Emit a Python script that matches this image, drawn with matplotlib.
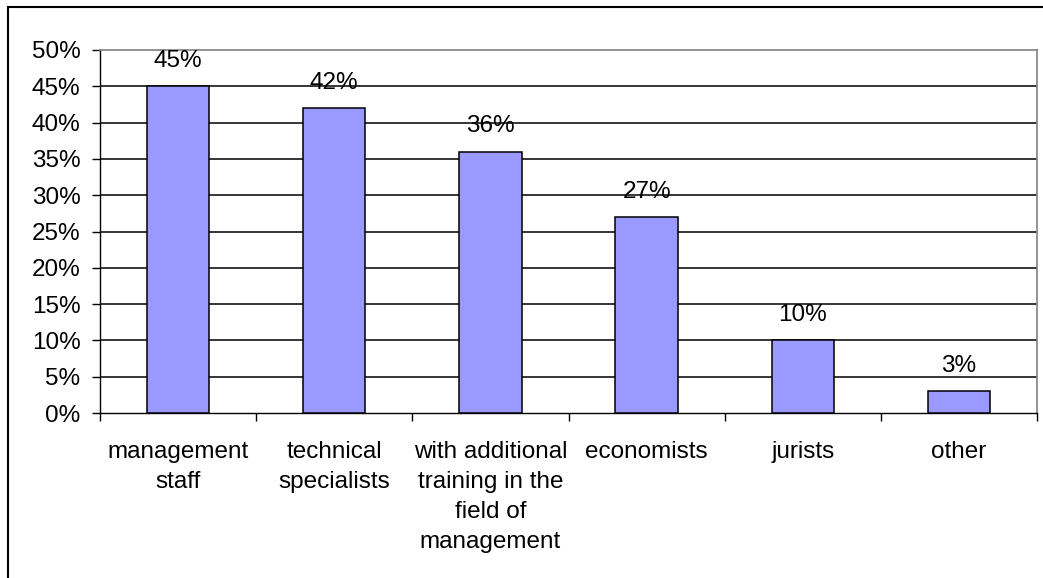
import matplotlib
matplotlib.use("Agg")
import matplotlib.pyplot as plt
from matplotlib.patches import Rectangle
from matplotlib.ticker import FixedLocator

categories = ["management\nstaff", "technical\nspecialists",
              "with additional\ntraining in the\nfield of\nmanagement",
              "economists", "jurists", "other"]
values = [45, 42, 36, 27, 10, 3]
yticks = [0, 5, 10, 15, 20, 25, 30, 35, 40, 45, 50]

plt.rcParams['font.family'] = ['Liberation Sans', 'DejaVu Sans']
fs = 17.5

fig = plt.figure(figsize=(10.43, 5.78), dpi=100)
ax = fig.add_axes([100 / 1043, 165 / 578, 937 / 1043, 363 / 578])

x = list(range(len(categories)))
ax.bar(x, values, width=0.4, color='#9999FF', edgecolor='black', linewidth=1.1, zorder=3)

for xi, v in zip(x, values):
    ax.annotate(f"{v}%", (xi, v), xytext=(0, 14), textcoords='offset points',
                ha='center', va='baseline', fontsize=fs)

ax.set_xlim(-0.5, len(categories) - 0.5)
ax.set_ylim(0, 50)

# horizontal gridlines
for t in yticks[1:-1]:
    ax.axhline(t, color='black', linewidth=1.1, zorder=1)

ax.set_yticks(yticks)
ax.set_yticklabels([f"{t}%" for t in yticks], fontsize=fs)
ax.tick_params(axis='y', direction='out', length=6, width=1.0, pad=8)

ax.set_xticks(x)
ax.set_xticklabels(categories, fontsize=fs, linespacing=1.47, va='top')
ax.tick_params(axis='x', which='major', length=0, pad=20)
ax.xaxis.set_minor_locator(FixedLocator([i - 0.5 for i in range(len(categories) + 1)]))
ax.tick_params(axis='x', which='minor', direction='out', length=6, width=1.0)

ax.spines['left'].set_color('black')
ax.spines['bottom'].set_color('black')
ax.spines['left'].set_linewidth(1.0)
ax.spines['bottom'].set_linewidth(1.0)
ax.spines['top'].set_color('#808080')
ax.spines['right'].set_color('#808080')
ax.spines['top'].set_linewidth(1.2)
ax.spines['right'].set_linewidth(1.2)

# outer chart border (cropped at right and bottom)
fig.patches.append(Rectangle((8 / 1043, -0.1), 1.1, 0.1 + (578 - 7) / 578,
                             transform=fig.transFigure, fill=False,
                             edgecolor='black', linewidth=1.5, clip_on=False))

fig.savefig("out.png", dpi=100)
